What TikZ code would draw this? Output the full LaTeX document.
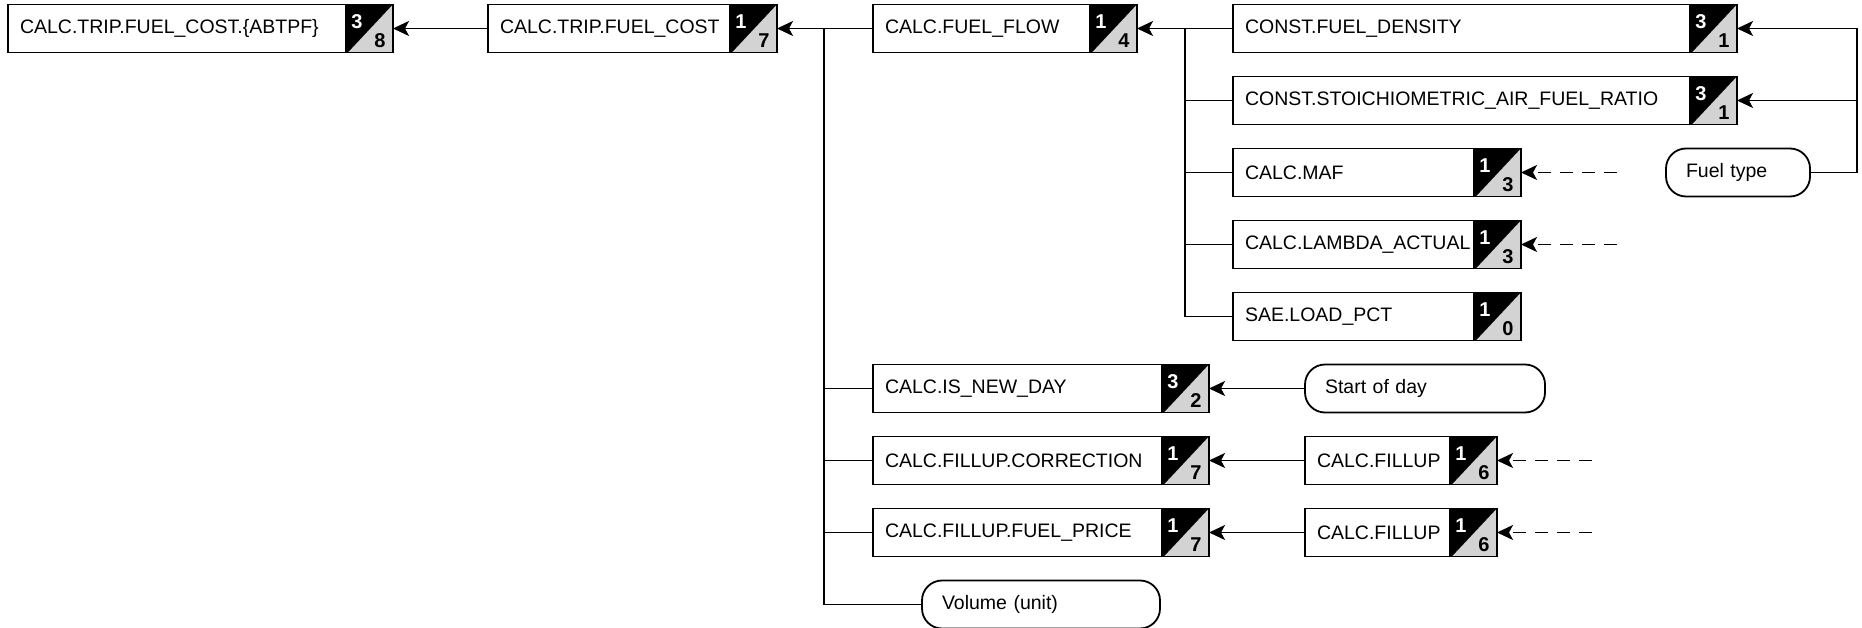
\documentclass[tikz,border=0pt]{standalone}
\usepackage{fontspec}
\setmainfont{Liberation Sans}
\usetikzlibrary{arrows.meta,calc}
\definecolor{badgegray}{HTML}{D3D3D3}
\tikzset{
  fcbox/.style={draw, line width=1.8pt, anchor=west, outer sep=0pt, minimum height=48pt,
    inner ysep=0pt, inner xsep=12pt, align=left, font=\fontsize{19.5pt}{23pt}\selectfont},
  fcterm/.style={fcbox, rounded corners=20pt, inner xsep=20pt},
  fcdigit/.style={inner sep=0pt, font=\fontsize{20pt}{23pt}\selectfont\bfseries},
  fcline/.style={line width=1.8pt},
  fcarrow/.style={fcline, -{Stealth[length=16pt, width=15pt, inset=4pt]}},
  fcdarrow/.style={fcarrow, dash pattern=on 13pt off 9pt},
}
\begin{document}
\begin{tikzpicture}[x=1pt, y=-1pt]
  \useasboundingbox (0,0) rectangle (1862,628);

  % computed values
  \node[fcbox, text width=361pt] (abtpf) at (8,28.5) {CALC.TRIP.FUEL\_COST.\{ABTPF\}};
  \node[fcbox, text width=265pt] (tripcost) at (488,28.5) {CALC.TRIP.FUEL\_COST};
  \node[fcbox, text width=240pt] (fuelflow) at (873,28.5) {CALC.FUEL\_FLOW};
  \node[fcbox, text width=480pt] (density) at (1233,28.5) {CONST.FUEL\_DENSITY};
  \node[fcbox, text width=480pt] (stoich) at (1233,100.5) {CONST.STOICHIOMETRIC\_AIR\_FUEL\_RATIO};
  \node[fcbox, text width=264pt] (maf) at (1233,172.5) {CALC.MAF};
  \node[fcbox, text width=264pt] (lambda) at (1233,244.5) {CALC.LAMBDA\_ACTUAL};
  \node[fcbox, text width=264pt] (load) at (1233,316.5) {SAE.LOAD\_PCT};
  \node[fcbox, text width=312pt] (newday) at (873,388.5) {CALC.IS\_NEW\_DAY};
  \node[fcbox, text width=312pt] (correction) at (873,460.5) {CALC.FILLUP.CORRECTION};
  \node[fcbox, text width=312pt] (price) at (873,532.5) {CALC.FILLUP.FUEL\_PRICE};
  \node[fcbox, text width=168pt] (fillupa) at (1305,460.5) {CALC.FILLUP};
  \node[fcbox, text width=168pt] (fillupb) at (1305,532.5) {CALC.FILLUP};

  % inputs
  \node[fcterm, text width=104pt] (fueltype) at (1666,172.5) {Fuel type};
  \node[fcterm, text width=200pt] (startday) at (1305,388.5) {Start of day};
  \node[fcterm, text width=198pt] (volume) at (922,604.5) {Volume (unit)};

  % badges
  \foreach \n/\a/\b in {abtpf/3/8, tripcost/1/7, fuelflow/1/4, density/3/1, stoich/3/1,
      maf/1/3, lambda/1/3, load/1/0, newday/3/2, correction/1/7, price/1/7,
      fillupa/1/6, fillupb/1/6}{
    \fill[black] ($(\n.north east)+(-48pt,0)$) rectangle (\n.south east);
    \fill[badgegray] ($(\n.south east)+(-45pt,0)$) -- (\n.south east) -- (\n.north east) -- cycle;
    \draw[fcline] (\n.south west) rectangle (\n.north east);
    \node[fcdigit, text=white] (\n-top) at ($(\n.north east)+(-36pt,-17pt)$) {\a};
    \node[fcdigit] (\n-bot) at ($(\n.south east)+(-13pt,12pt)$) {\b};
  }

  \coordinate (trunkA) at (824,28.5);
  \coordinate (trunkB) at (1185,28.5);
  \coordinate (rail) at (1857,28.5);
  \coordinate (mafsrc) at (1617,172.5);
  \coordinate (lambdasrc) at (1617,244.5);
  \coordinate (fillasrc) at (1592,460.5);
  \coordinate (fillbsrc) at (1592,532.5);

  \draw[fcarrow] (tripcost.west) -- (abtpf.east);
  \draw[fcarrow] (fuelflow.west) -- (tripcost.east);
  \draw[fcline] (trunkA) |- (volume.west);
  \foreach \n in {newday, correction, price}
    \draw[fcline] (trunkA |- \n.west) -- (\n.west);

  \draw[fcarrow] (density.west) -- (fuelflow.east);
  \draw[fcline] (trunkB) |- (load.west);
  \foreach \n in {stoich, maf, lambda}
    \draw[fcline] (trunkB |- \n.west) -- (\n.west);

  \draw[fcarrow] (fueltype.east) -| (rail) -- (density.east);
  \draw[fcarrow] (rail |- stoich.east) -- (stoich.east);
  \draw[fcdarrow] (mafsrc) -- (maf.east);
  \draw[fcdarrow] (lambdasrc) -- (lambda.east);

  \draw[fcarrow] (startday.west) -- (newday.east);
  \draw[fcarrow] (fillupa.west) -- (correction.east);
  \draw[fcarrow] (fillupb.west) -- (price.east);
  \draw[fcdarrow] (fillasrc) -- (fillupa.east);
  \draw[fcdarrow] (fillbsrc) -- (fillupb.east);
\end{tikzpicture}
\end{document}
